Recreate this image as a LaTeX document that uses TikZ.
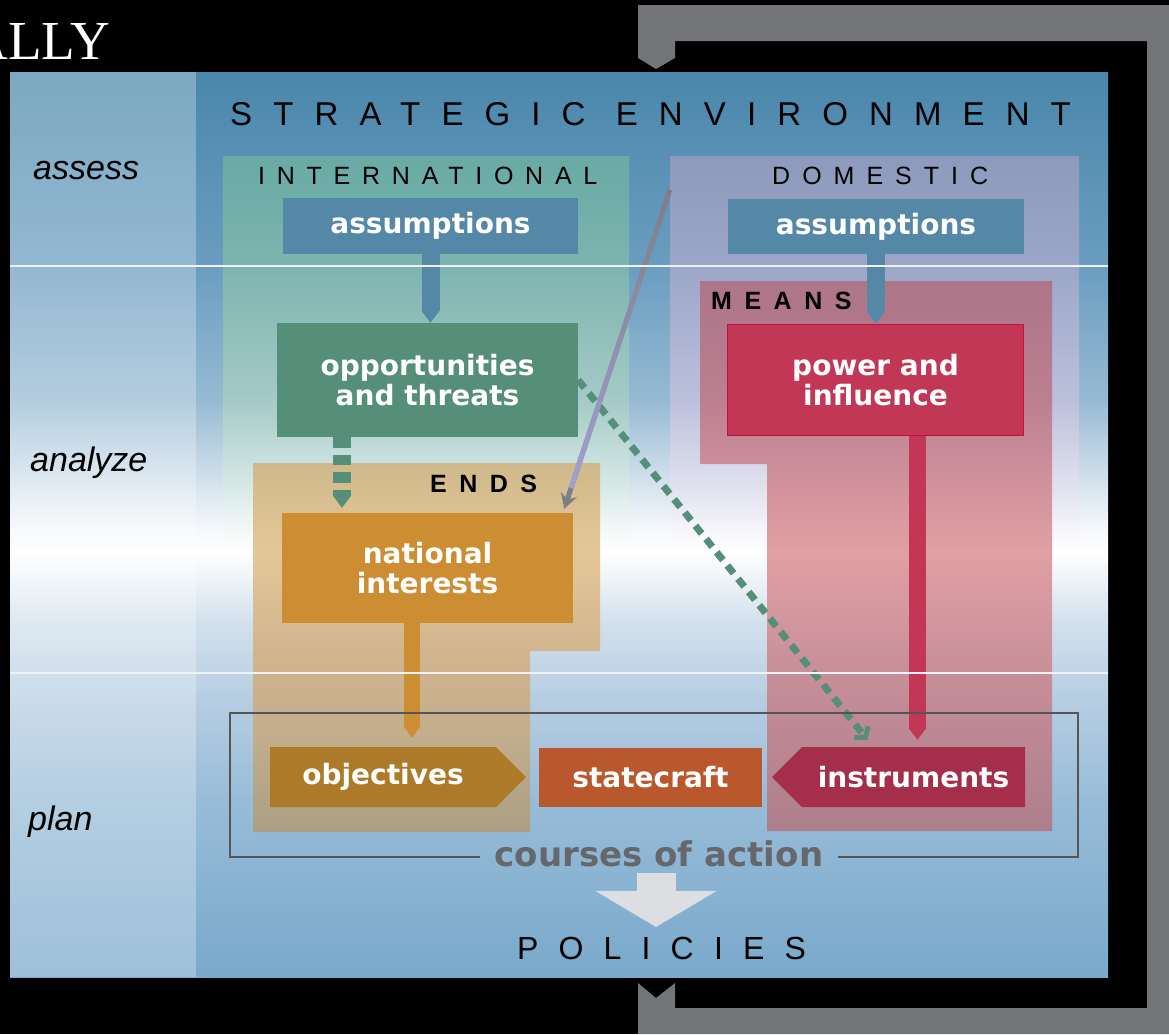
\documentclass[tikz,border=0pt]{standalone}
\usepackage{fontspec}
\setmainfont{Liberation Sans}
\newfontfamily\boxfont{DejaVu Sans}
\newfontfamily\headfont{Liberation Serif}
\usetikzlibrary{arrows.meta,shapes.symbols,fadings}

% colours
\definecolor{loopgray}{HTML}{737478}
\definecolor{asmblue}{HTML}{5587A7}
\definecolor{oppgreen}{HTML}{558F79}
\definecolor{natorange}{HTML}{CD8E33}
\definecolor{powerred}{HTML}{C13755}
\definecolor{powerline}{HTML}{C4103F}
\definecolor{objgold}{HTML}{AD7A2A}
\definecolor{craftrust}{HTML}{B9582C}
\definecolor{instrred}{HTML}{A52E4B}
\definecolor{linkgray}{HTML}{7E7E86}
\definecolor{linklav}{HTML}{A3A3DC}
\definecolor{framegray}{HTML}{555558}
\definecolor{coagray}{HTML}{66676A}
\definecolor{bigarrow}{HTML}{DCDEE2}
\definecolor{sepwhite}{HTML}{EEF3F7}
% background shades
\definecolor{envA}{HTML}{79A9CB}
\definecolor{envB}{HTML}{98BCD8}
\definecolor{envC}{HTML}{B6CDE2}
\definecolor{envD}{HTML}{D3E1ED}
\definecolor{envE}{HTML}{F0F5F9}
\definecolor{envF}{HTML}{F2F6FA}
\definecolor{envG}{HTML}{D2E0EC}
\definecolor{envH}{HTML}{96BAD3}
\definecolor{envI}{HTML}{6A9DC0}
\definecolor{envJ}{HTML}{4A87AB}
\definecolor{tealA}{HTML}{FBFDFD}
\definecolor{tealB}{HTML}{ECF5F4}
\definecolor{tealC}{HTML}{D3E7E4}
\definecolor{tealD}{HTML}{A5CAC7}
\definecolor{tealE}{HTML}{7DB4AF}
\definecolor{tealF}{HTML}{69AAA5}
\definecolor{lavA}{HTML}{FBFBFD}
\definecolor{lavB}{HTML}{E6E7F2}
\definecolor{lavC}{HTML}{BCC0DB}
\definecolor{lavD}{HTML}{9BA6C8}
\definecolor{lavE}{HTML}{8E9ABC}
\definecolor{tanA}{HTML}{AB9F83}
\definecolor{tanB}{HTML}{C1AD8C}
\definecolor{tanC}{HTML}{D1B58E}
\definecolor{tanD}{HTML}{E4C798}
\definecolor{tanE}{HTML}{CFB98B}
\definecolor{roseA}{HTML}{AD7F8C}
\definecolor{roseB}{HTML}{C28B96}
\definecolor{roseC}{HTML}{E0A0A4}
\definecolor{roseD}{HTML}{C98B98}
\definecolor{roseE}{HTML}{BB7F90}
\definecolor{roseF}{HTML}{AD7589}

\pgfdeclareverticalshading{envshade}{100bp}{color(0bp)=(envA); color(25bp)=(envA);
  color(34.8bp)=(envB); color(40.3bp)=(envC); color(44.7bp)=(envD); color(47.2bp)=(envE);
  color(48.5bp)=(white); color(50bp)=(envF); color(52.5bp)=(envG); color(56.9bp)=(envH);
  color(64.3bp)=(envI); color(75bp)=(envJ); color(100bp)=(envJ)}
\pgfdeclareverticalshading{intlshade}{100bp}{color(0bp)=(tealA); color(25bp)=(tealA);
  color(28.2bp)=(tealB); color(33.4bp)=(tealC); color(43.6bp)=(tealD); color(60.9bp)=(tealE);
  color(75bp)=(tealF); color(100bp)=(tealF)}
\pgfdeclareverticalshading{domshade}{100bp}{color(0bp)=(lavA); color(25bp)=(lavA);
  color(30.2bp)=(lavB); color(43.2bp)=(lavC); color(60.7bp)=(lavD); color(75bp)=(lavE);
  color(100bp)=(lavE)}
\pgfdeclareverticalshading{endshade}{100bp}{color(0bp)=(tanA); color(25bp)=(tanA);
  color(37.5bp)=(tanB); color(49.5bp)=(tanC); color(62.9bp)=(tanD); color(75bp)=(tanE);
  color(100bp)=(tanE)}
\pgfdeclareverticalshading{meanshade}{100bp}{color(0bp)=(roseA); color(25bp)=(roseA);
  color(36.9bp)=(roseB); color(50.4bp)=(roseC); color(59.6bp)=(roseD); color(64.2bp)=(roseE);
  color(75bp)=(roseF); color(100bp)=(roseF)}

\tikzset{
  box/.style={inner sep=0pt, text=white, align=center,
    font=\boxfont\bfseries\fontsize{28}{30}\selectfont},
  panel/.style={inner sep=0pt, draw=none},
  stage/.style={inner sep=0pt, anchor=west, font=\itshape\fontsize{34}{36}\selectfont},
  caps/.style={inner sep=0pt, anchor=west},
  bar/.style={line width=18pt, -{Triangle[length=12pt,width=18pt,line width=0pt]}},
  sepline/.style={draw=sepwhite, line width=2.5pt}
}

\begin{document}
\begin{tikzpicture}[x=1pt,y=-1pt]
\useasboundingbox (0,0) rectangle (1169,1034);
\clip (0,0) rectangle (1169,1034);
\fill[black] (0,0) rectangle (1169,1034);

% feedback loop
\fill[loopgray] (638,983) -- (656,998) -- (675,983) -- (675,1008) -- (1147,1008)
  -- (1147,41) -- (675,41) -- (675,58) -- (656,69) -- (638,58) -- (638,5)
  -- (1169,5) -- (1169,1034) -- (638,1034) -- cycle;
\node[anchor=south east, inner sep=0pt, text=white,
  font=\headfont\fontsize{55}{55}\selectfont] (heading) at (110,60) {ALLY};

% environment
\shade[shading=envshade] (10,72) rectangle (1108,977);
\fill[white, opacity=0.28] (10,72) rectangle (196,977);
\node[stage] (assess) at (33,171) {assess};
\node[stage] (analyze) at (30,463) {analyze};
\node[stage] (plan) at (28,822) {plan};
\node[caps, font={\fontsize{33}{33}\selectfont\addfontfeature{LetterSpace=64}}] (env) at (230,114) {STRATEGIC ENVIRONMENT};

% panels
\node[panel, shading=intlshade, minimum width=406pt, minimum height=389pt] (intl) at (426,350.5) {};
\node[panel, shading=domshade, minimum width=409pt, minimum height=384pt] (dom) at (874.5,348) {};
\shade[shading=endshade] (253,463) -- (600,463) -- (600,651) -- (530,651) -- (530,832) -- (253,832) -- cycle;
\shade[shading=meanshade] (700,281) -- (1052,281) -- (1052,831) -- (767,831) -- (767,464) -- (700,464) -- cycle;
\node[caps, font={\fontsize{25}{25}\selectfont\addfontfeature{LetterSpace=47}}] (intltitle) at (258,176) {INTERNATIONAL};
\node[caps, font={\fontsize{25}{25}\selectfont\addfontfeature{LetterSpace=48}}] (domtitle) at (772,176) {DOMESTIC};
\node[caps, font={\bfseries\fontsize{25}{25}\selectfont\addfontfeature{LetterSpace=50}}] (means) at (711,301) {MEANS};
\node[caps, font={\bfseries\fontsize{25}{25}\selectfont\addfontfeature{LetterSpace=50}}] (ends) at (430,484) {ENDS};

% boxes
\node[box, fill=asmblue, minimum width=295pt, minimum height=56pt] (asmI) at (430.5,226) {assumptions};
\node[box, fill=asmblue, minimum width=296pt, minimum height=55pt] (asmD) at (876,226.5) {assumptions};
\node[box, fill=oppgreen, minimum width=301pt, minimum height=114pt] (opp) at (427.5,380) {opportunities\\and threats};
\node[box, fill=natorange, minimum width=291pt, minimum height=110pt] (natint) at (427.5,568) {national\\interests};
\node[box, fill=powerred, draw=powerline, line width=1.5pt, minimum width=296pt, minimum height=111pt] (power) at (875.5,380) {power and\\influence};
\node[box, signal, signal to=east, fill=objgold, minimum width=256pt, minimum height=60pt] (obj) at (383,777) {objectives};
\node[box, fill=craftrust, minimum width=223pt, minimum height=59pt] (craft) at (650.5,777) {statecraft};
\node[box, signal, signal to=west, fill=instrred, minimum width=253pt, minimum height=60pt] (instr) at (913.5,777) {instruments};

% links
\draw[bar, asmblue] (asmI.south) -- (asmI.south |- opp.north);
\draw[bar, asmblue] (asmD.south) -- (asmD.south |- power.north);
\draw[bar, oppgreen, dash pattern=on 10.5pt off 7pt, shorten >=5pt] ([xshift=-85.5pt]opp.south) -- ([xshift=-85.5pt]natint.north);
\draw[bar, natorange, line width=16pt, shorten >=9pt] ([xshift=-15.5pt]natint.south) -- ([xshift=-15.5pt]natint.south |- obj.north);
\draw[bar, powerred, line width=17pt, shorten >=7pt] ([xshift=42pt]power.south) -- ([xshift=42pt]power.south |- instr.north);
\draw[oppgreen, line width=7pt, dash pattern=on 10pt off 7pt,
  -{Straight Barb[length=7pt,width=18pt,line width=5pt]}] (opp.east) -- ([shift={(-46,-7)}]instr.north);
\draw[linkgray, line width=5pt, -{Stealth[length=15pt,width=17pt,line width=0pt]}]
  ([yshift=-34pt]dom.north west) -- ([shift={(-9,-4)}]natint.north east);
\draw[linklav, line width=5pt, path fading=north, shorten >=22pt]
  ([yshift=-34pt]dom.north west) -- ([shift={(-9,-4)}]natint.north east);

\draw[sepline] (10,266) -- (1108,266);
\draw[sepline] (10,673) -- (1108,673);

% courses of action
\node[inner xsep=15pt, inner ysep=0pt, text height=18pt, text depth=0pt, text=coagray,
  font=\boxfont\bfseries\fontsize{34}{36}\selectfont] (coa) at (659,857) {courses of action};
\draw[framegray, line width=2.5pt] (coa.west) -| (230,713) -| (1078,857) -- (coa.east);
\node[caps, font={\fontsize{32}{32}\selectfont\addfontfeature{LetterSpace=63}}] (pol) at (517,948) {POLICIES};
\draw[bigarrow, line width=39pt, shorten <=7pt, shorten >=9.5pt,
  -{Triangle[length=36pt,width=121pt,line width=0pt]}] ([xshift=-3pt]coa.south) -- ([xshift=-3pt]coa.south |- pol.north);
\end{tikzpicture}
\end{document}
